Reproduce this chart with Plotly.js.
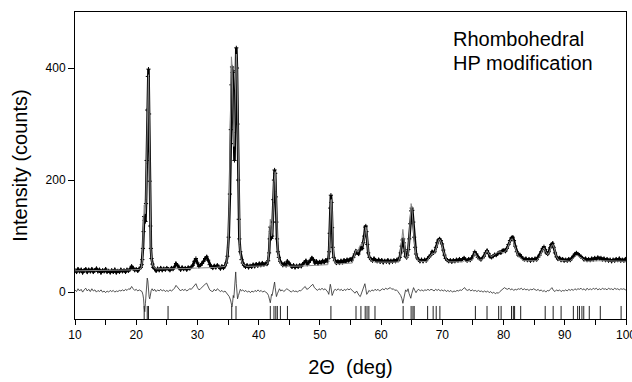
<!DOCTYPE html>
<html>
<head>
<meta charset="utf-8">
<script src="https://cdn.plot.ly/plotly-3.0.1.min.js"></script>
<style>html,body{margin:0;padding:0;background:#fff}#chart{width:632px;height:382px}</style>
</head>
<body>
<div id="chart"></div>
<script>
// Observed profile [2θ (deg), counts]
const observed = [
[10.0,39],[10.25,36],[10.5,41],[10.75,37],[11.0,40],[11.25,35],[11.5,39],[11.75,41],[12.0,36],[12.25,40],[12.5,37],[12.75,41],
[13.0,36],[13.25,39],[13.5,42],[13.75,37],[14.0,40],[14.25,35],[14.5,39],[14.75,37],[15.0,41],[15.25,36],[15.5,38],[15.75,35],
[16.0,39],[16.25,36],[16.5,40],[16.75,35],[17.0,38],[17.25,36],[17.5,40],[17.75,37],[18.0,39],[18.25,36],[18.5,40],[18.75,38],
[19.0,41],[19.25,46],[19.5,43],[19.75,39],[20.0,41],[20.25,38],[20.5,42],[20.75,44],
[20.9,49],[21.0,58],[21.1,78],[21.2,108],[21.3,135],[21.4,128],[21.5,126],[21.6,158],[21.7,235],[21.8,325],[21.9,385],[22.0,398],
[22.1,318],[22.2,198],[22.3,118],[22.4,78],[22.5,60],[22.65,50],[22.8,44],[23.0,42],
[23.25,38],[23.5,42],[23.75,39],[24.0,43],[24.25,39],[24.5,42],[24.75,40],[25.0,43],[25.25,41],[25.5,39],[25.75,43],[26.0,41],
[26.25,45],[26.5,51],[26.75,48],[27.0,43],[27.25,40],[27.5,44],[27.75,41],[28.0,43],[28.25,40],[28.5,44],[28.75,42],[29.0,45],
[29.25,48],[29.5,55],[29.75,60],[30.0,52],[30.25,46],[30.5,48],[30.75,51],[31.0,55],[31.25,60],[31.5,63],[31.75,57],[32.0,49],
[32.25,45],[32.5,43],[32.75,47],[33.0,44],[33.25,48],[33.5,45],[33.75,42],[34.0,46],[34.25,43],[34.5,47],
[34.7,52],[34.9,64],[35.1,98],[35.3,175],[35.45,290],[35.55,370],[35.65,402],[35.75,392],[35.85,330],[35.95,265],[36.05,235],
[36.15,300],[36.25,395],[36.35,436],[36.45,400],[36.55,300],[36.65,200],[36.75,130],[36.85,95],[37.0,72],[37.2,58],[37.4,52],[37.6,48],
[37.85,45],[38.1,48],[38.35,44],[38.6,47],[38.85,45],[39.1,49],[39.35,46],[39.6,50],[39.85,47],[40.1,51],[40.35,48],[40.6,52],
[40.85,49],[41.1,51],[41.35,50],[41.55,56],
[41.7,70],[41.8,95],[41.9,116],[42.0,108],[42.1,96],[42.2,100],[42.3,125],[42.4,165],[42.5,200],[42.6,218],[42.7,212],[42.8,170],
[42.9,125],[43.0,95],[43.15,72],[43.3,62],[43.5,55],[43.7,52],
[43.95,48],[44.2,51],[44.45,48],[44.7,55],[44.95,52],[45.2,48],[45.45,45],[45.7,48],[45.95,44],[46.2,47],[46.45,45],[46.7,48],
[46.95,46],[47.2,50],[47.45,53],[47.7,56],[47.95,50],[48.2,53],[48.45,57],[48.7,61],[48.95,58],[49.2,52],[49.45,55],[49.7,51],
[49.95,54],[50.2,52],[50.45,56],[50.7,53],[50.95,57],[51.2,55],[51.4,60],
[51.5,72],[51.6,105],[51.7,150],[51.8,173],[51.9,160],[52.0,115],[52.1,80],[52.25,62],[52.45,56],
[52.7,52],[52.95,55],[53.2,52],[53.45,56],[53.7,53],[53.95,57],[54.2,54],[54.45,58],[54.7,56],[54.95,59],[55.2,57],[55.45,62],
[55.7,68],[55.9,73],[56.1,70],[56.3,68],[56.5,75],[56.7,79],[56.9,78],[57.1,88],[57.25,100],[57.4,116],[57.5,118],[57.6,108],
[57.75,85],[57.9,70],[58.1,62],[58.35,58],[58.6,56],[58.85,60],[59.1,57],[59.35,55],[59.6,58],[59.85,54],[60.1,57],[60.35,53],
[60.6,56],[60.85,54],[61.1,57],[61.35,53],[61.6,56],[61.85,54],[62.1,57],[62.35,55],[62.6,58],[62.85,57],[63.05,62],
[63.2,70],[63.35,82],[63.5,93],[63.6,95],[63.7,88],[63.85,73],[64.0,64],[64.15,62],[64.3,66],[64.45,76],[64.6,95],[64.75,122],
[64.9,145],[65.0,150],[65.1,146],[65.25,125],[65.4,98],[65.55,80],[65.7,68],[65.9,61],[66.1,58],
[66.35,55],[66.6,58],[66.85,55],[67.1,58],[67.35,56],[67.6,60],[67.85,63],[68.1,66],[68.35,72],[68.55,70],[68.75,72],[68.95,80],
[69.15,88],[69.35,93],[69.55,95],[69.75,92],[69.95,86],[70.15,75],[70.35,66],[70.55,60],[70.8,57],
[71.05,55],[71.3,57],[71.55,54],[71.8,57],[72.05,55],[72.3,58],[72.55,56],[72.8,59],[73.05,57],[73.3,59],[73.55,61],[73.8,58],
[74.05,56],[74.3,59],[74.55,57],[74.8,61],[75.05,65],[75.3,72],[75.55,68],[75.8,62],[76.05,60],[76.3,58],[76.55,61],[76.8,64],
[77.05,70],[77.3,74],[77.55,69],[77.8,63],[78.05,62],[78.3,64],[78.55,67],[78.8,66],[79.05,69],[79.3,71],[79.55,70],[79.8,74],
[80.05,75],[80.3,73],[80.55,78],[80.8,85],[81.05,92],[81.3,97],[81.5,98],[81.7,92],[81.9,82],[82.15,72],[82.4,66],[82.65,67],
[82.9,63],[83.15,60],[83.4,58],[83.65,60],[83.9,57],[84.15,59],[84.4,56],[84.65,59],[84.9,57],[85.15,60],[85.4,58],[85.65,62],
[85.9,66],[86.15,72],[86.4,78],[86.6,81],[86.8,76],[87.0,70],[87.2,68],[87.4,72],[87.6,79],[87.8,85],[88.0,87],[88.2,80],
[88.4,70],[88.65,63],[88.9,59],[89.15,61],[89.4,57],[89.65,59],[89.9,56],[90.15,58],[90.4,56],[90.65,59],[90.9,57],[91.15,61],
[91.4,64],[91.65,68],[91.9,70],[92.15,68],[92.4,66],[92.65,63],[92.9,61],[93.15,58],[93.4,60],[93.65,57],[93.9,59],[94.15,57],
[94.4,60],[94.65,58],[94.9,61],[95.15,59],[95.4,62],[95.65,60],[95.9,61],[96.15,58],[96.4,60],[96.65,57],[96.9,59],[97.15,56],
[97.4,58],[97.65,55],[97.9,58],[98.15,56],[98.4,59],[98.65,57],[98.9,60],[99.15,56],[99.4,58],[99.65,56],[99.9,59],[100.0,57]
];

// Calculated profile [2θ (deg), counts]
const calculated = [
[10,38],[15,38.5],[19,39.5],[20.5,40.5],[20.8,43],[21.0,55],[21.1,80],[21.2,125],[21.3,155],[21.4,150],[21.5,140],[21.6,165],
[21.7,230],[21.8,310],[21.9,370],[22.0,388],[22.1,320],[22.2,200],[22.3,115],[22.4,75],[22.55,55],[22.8,45],[23.2,41.5],[25,41.5],
[28,42],[30,43],[33,44],[34.5,46],[34.8,55],[35.0,80],[35.2,150],[35.35,270],[35.45,380],[35.55,420],[35.65,405],[35.75,340],
[35.85,275],[35.95,260],[36.05,285],[36.15,320],[36.25,390],[36.35,425],[36.45,400],[36.55,310],[36.65,210],[36.75,135],[36.9,85],
[37.1,60],[37.4,50],[38,46],[41.0,46.5],[41.5,52],[41.7,75],[41.8,105],[41.9,130],[42.0,120],[42.1,100],[42.2,105],[42.3,125],
[42.4,160],[42.5,195],[42.6,205],[42.7,215],[42.8,180],[42.9,135],[43.0,98],[43.15,72],[43.3,60],[43.6,50],[44.0,46],[47,46.5],
[51.3,49],[51.45,60],[51.6,100],[51.7,138],[51.8,165],[51.9,165],[52.0,122],[52.1,85],[52.25,62],[52.5,52],[53,50],[55.3,52],
[55.7,66],[55.9,75],[56.1,72],[56.3,72],[56.5,82],[56.7,85],[56.9,82],[57.1,88],[57.25,95],[57.4,108],[57.5,116],[57.6,112],
[57.75,88],[57.9,72],[58.1,62],[58.4,56],[59,53.5],[62.8,53.5],[63.1,64],[63.3,82],[63.45,100],[63.55,112],[63.7,98],[63.85,78],
[64.0,64],[64.2,60],[64.4,68],[64.6,98],[64.75,132],[64.9,158],[65.0,153],[65.1,142],[65.25,118],[65.4,93],[65.55,77],[65.7,66],
[65.9,59],[66.3,55],[67.4,54.5],[67.8,60],[68.1,64],[68.4,70],[68.7,68],[68.95,78],[69.2,89],[69.45,94],[69.65,93],[69.9,86],
[70.15,74],[70.4,64],[70.7,57],[71.2,54],[73.3,54],[73.6,56],[74,54],[75.0,58],[75.3,70],[75.6,64],[76.0,57],[76.6,58],
[77.0,67],[77.3,74],[77.6,68],[78,63],[78.5,67],[79,71],[79.5,72],[80,70],[80.5,75],[80.9,86],[81.2,94],[81.45,95],
[81.7,88],[82.0,76],[82.4,64],[82.8,61],[83.3,56],[85.4,56],[85.9,63],[86.3,74],[86.6,79],[86.9,72],[87.2,67],[87.5,72],
[87.8,82],[88.05,85],[88.3,78],[88.6,64],[89.0,57],[90.8,55],[91.3,60],[91.7,64],[92.0,66],[92.4,63],[92.9,59],[93.5,55],
[95.5,56],[100,55]
];

// Difference curve [2θ (deg), counts]
const difference = [
[10.0,4],[10.25,1],[10.5,6],[10.75,2],[11.0,5],[11.25,0],[11.5,4],[11.75,7],[12.0,2],[12.25,5],[12.5,1],[12.75,6],[13.0,2],
[13.25,4],[13.5,0],[13.75,3],[14.0,1],[14.25,4],[14.5,0],[14.75,2],[15.0,-1],[15.25,2],[15.5,0],[15.75,3],[16.0,1],[16.25,3],
[16.5,0],[16.75,2],[17.0,1],[17.25,3],[17.5,2],[17.75,4],[18.0,2],[18.25,5],[18.5,3],[18.75,6],[19.0,5],[19.25,10],[19.5,6],
[19.75,3],[20.0,5],[20.25,2],[20.5,4],[20.75,3],[20.95,1],[21.1,-5],[21.2,-12],[21.3,-28],[21.4,-35],[21.5,-20],[21.6,0],
[21.7,12],[21.8,25],[21.9,20],[22.0,-2],[22.1,-8],[22.2,-12],[22.3,-5],[22.45,3],[22.6,6],[22.8,2],[23.0,5],[23.25,1],[23.5,4],
[23.75,2],[24.0,5],[24.25,2],[24.5,4],[24.75,1],[25.0,3],[25.25,1],[25.5,4],[25.75,2],[26.0,4],[26.25,7],[26.5,12],[26.75,8],
[27.0,4],[27.25,2],[27.5,5],[27.75,3],[28.0,5],[28.25,2],[28.5,4],[28.75,6],[29.0,5],[29.25,8],[29.5,12],[29.75,15],[30.0,8],
[30.25,4],[30.5,6],[30.75,9],[31.0,11],[31.25,14],[31.5,16],[31.75,10],[32.0,4],[32.25,2],[32.5,1],[32.75,5],[33.0,2],[33.25,6],
[33.5,3],[33.75,1],[34.0,3],[34.25,0],[34.5,2],[34.75,-1],[35.0,-4],[35.2,-8],[35.4,-14],[35.55,-22],[35.65,-26],[35.75,-18],
[35.85,-6],[35.95,-10],[36.05,5],[36.15,30],[36.25,36],[36.35,15],[36.45,-5],[36.55,-12],[36.7,-6],[36.85,2],[37.0,5],[37.2,2],
[37.4,4],[37.65,1],[37.9,3],[38.15,0],[38.4,2],[38.65,-1],[38.9,2],[39.15,0],[39.4,3],[39.65,1],[39.9,4],[40.15,1],[40.4,3],
[40.65,0],[40.9,2],[41.15,0],[41.4,-2],[41.6,-6],[41.75,-12],[41.9,-19],[42.0,-12],[42.1,-4],[42.2,-6],[42.3,2],[42.45,10],
[42.6,18],[42.7,8],[42.8,-4],[42.9,-8],[43.05,-3],[43.2,3],[43.4,6],[43.6,2],[43.85,4],[44.1,1],[44.35,3],[44.6,6],[44.85,4],
[45.1,2],[45.35,0],[45.6,3],[45.85,1],[46.1,2],[46.35,0],[46.6,3],[46.85,2],[47.1,5],[47.35,7],[47.6,10],[47.85,5],[48.1,6],
[48.35,9],[48.6,12],[48.85,14],[49.1,8],[49.35,5],[49.6,3],[49.85,6],[50.1,4],[50.35,7],[50.6,4],[50.85,6],[51.1,3],[51.3,0],
[51.45,-4],[51.6,4],[51.7,14],[51.8,9],[51.9,-2],[52.0,-6],[52.15,-2],[52.3,3],[52.5,5],[52.75,3],[53.0,6],[53.25,3],[53.5,5],
[53.75,2],[54.0,5],[54.25,3],[54.5,6],[54.75,4],[55.0,6],[55.25,3],[55.5,1],[55.75,-2],[56.0,2],[56.2,-3],[56.4,-6],[56.6,-8],
[56.8,-2],[57.0,4],[57.2,8],[57.35,15],[57.5,6],[57.65,-4],[57.8,-2],[58.0,3],[58.25,1],[58.5,4],[58.75,2],[59.0,5],[59.25,3],
[59.5,5],[59.75,2],[60.0,4],[60.25,6],[60.5,4],[60.75,7],[61.0,5],[61.25,7],[61.5,8],[61.75,5],[62.0,6],[62.25,3],[62.5,4],
[62.75,1],[63.0,-2],[63.2,-6],[63.4,-12],[63.55,-20],[63.7,-12],[63.85,-4],[64.0,4],[64.2,1],[64.4,6],[64.55,-2],[64.7,-8],
[64.85,-11],[65.0,-3],[65.15,5],[65.3,8],[65.5,3],[65.7,-1],[65.9,3],[66.15,5],[66.4,2],[66.65,4],[66.9,2],[67.15,4],[67.4,3],
[67.65,5],[67.9,3],[68.15,5],[68.4,4],[68.65,2],[68.9,5],[69.15,3],[69.4,5],[69.65,2],[69.9,4],[70.15,2],[70.4,4],[70.65,1],
[70.9,3],[71.15,1],[71.4,3],[71.65,0],[71.9,2],[72.15,1],[72.4,3],[72.65,2],[72.9,4],[73.15,3],[73.4,6],[73.65,8],[73.9,4],
[74.15,3],[74.4,5],[74.65,2],[74.9,4],[75.15,2],[75.4,3],[75.65,1],[75.9,3],[76.15,1],[76.4,2],[76.65,0],[76.9,2],[77.15,0],
[77.4,2],[77.65,-1],[77.9,1],[78.15,-2],[78.4,0],[78.65,-3],[78.9,-1],[79.15,-2],[79.4,1],[79.65,3],[79.9,5],[80.15,8],[80.4,6],
[80.65,5],[80.9,7],[81.15,4],[81.4,6],[81.65,3],[81.9,5],[82.15,4],[82.4,6],[82.65,5],[82.9,7],[83.15,4],[83.4,6],[83.65,4],
[83.9,5],[84.15,3],[84.4,5],[84.65,4],[84.9,6],[85.15,4],[85.4,3],[85.65,5],[85.9,2],[86.15,4],[86.4,1],[86.65,3],[86.9,0],
[87.15,3],[87.4,2],[87.65,5],[87.9,8],[88.15,3],[88.4,1],[88.65,4],[88.9,2],[89.15,4],[89.4,1],[89.65,3],[89.9,2],[90.15,4],
[90.4,2],[90.65,5],[90.9,3],[91.15,5],[91.4,3],[91.65,6],[91.9,4],[92.15,6],[92.4,5],[92.65,7],[92.9,4],[93.15,6],[93.4,3],
[93.65,7],[93.9,4],[94.15,6],[94.4,4],[94.65,7],[94.9,5],[95.15,7],[95.4,4],[95.65,6],[95.9,4],[96.15,7],[96.4,5],[96.65,6],
[96.9,4],[97.15,7],[97.4,5],[97.65,6],[97.9,4],[98.15,7],[98.4,5],[98.65,6],[98.9,4],[99.15,6],[99.4,5],[99.65,6],[99.9,4],[100.0,5]
];

// Bragg reflection positions (2θ, deg)
const reflections = [21.3,21.8,22.0,25.2,35.6,36.3,41.9,42.5,42.8,43.05,43.55,44.7,51.8,55.9,56.7,57.4,57.7,58.0,59.0,
  63.6,64.9,65.2,65.4,67.6,68.5,69.0,69.6,75.4,77.3,79.2,79.6,81.3,81.6,81.8,82.8,86.8,88.1,89.4,91.4,92.1,92.4,92.8,93.1,
  94.0,95.8,99.2];

// Axis ticks: x ticks every 5 deg, labels every 10 deg
const xTickVals = [10,15,20,25,30,35,40,45,50,55,60,65,70,75,80,85,90,95,100];
const xTickText = ["10","","20","","30","","40","","50","","60","","70","","80","","90","","100"];
const yTickVals = [0,200,400];
const labelLines = ["Rhombohedral","HP modification"];

const FONT = "Liberation Sans, Arial, Helvetica, sans-serif";
const REFL_LEVEL = -38.5;

const traces = [
  {
    x: observed.map(p => p[0]), y: observed.map(p => p[1]),
    type: "scatter", mode: "lines+markers",
    line: {color: "#000", width: 2.6},
    marker: {symbol: "cross-thin", size: 3, line: {color: "#000", width: 1}},
    hoverinfo: "skip"
  },
  {
    x: calculated.map(p => p[0]), y: calculated.map(p => p[1]),
    type: "scatter", mode: "lines",
    line: {color: "#8a8a8a", width: 1},
    hoverinfo: "skip"
  },
  {
    x: difference.map(p => p[0]), y: difference.map(p => p[1]),
    type: "scatter", mode: "lines",
    line: {color: "#2a2a2a", width: 0.8},
    hoverinfo: "skip"
  },
  {
    x: reflections, y: reflections.map(() => REFL_LEVEL),
    type: "scatter", mode: "markers",
    marker: {symbol: "line-ns", size: 11, line: {color: "#222", width: 1}},
    hoverinfo: "skip"
  }
];

const layout = {
  width: 632, height: 382,
  margin: {l: 75, r: 6, t: 12, b: 63},
  paper_bgcolor: "#fff", plot_bgcolor: "#fff",
  showlegend: false,
  font: {family: FONT, color: "#000", size: 12},
  xaxis: {
    range: [10, 100], tickmode: "array", tickvals: xTickVals, ticktext: xTickText,
    ticks: "outside", ticklen: 5, tickwidth: 1, tickcolor: "#000", ticklabeloverflow: "allow",
    showgrid: false, zeroline: false, showline: true, linecolor: "#000", linewidth: 1, mirror: true,
    tickfont: {size: 12, family: FONT},
    title: {text: "2Θ  (deg)", font: {size: 20, family: FONT}, standoff: 18}
  },
  yaxis: {
    range: [-48, 500], tickvals: yTickVals, ticks: "outside", ticklen: 6, tickwidth: 1, tickcolor: "#000",
    showgrid: false, zeroline: false, showline: true, linecolor: "#000", linewidth: 1, mirror: true,
    tickfont: {size: 12, family: FONT},
    title: {text: "Intensity (counts)", font: {size: 20, family: FONT}, standoff: 12}
  },
  annotations: [
    {xref: "x", yref: "y", x: 71.4, y: 451, xanchor: "left", yanchor: "middle", showarrow: false,
     text: labelLines[0], font: {size: 20, family: FONT, color: "#000"}},
    {xref: "x", yref: "y", x: 71.4, y: 409, xanchor: "left", yanchor: "middle", showarrow: false,
     text: labelLines[1], font: {size: 20, family: FONT, color: "#000"}}
  ]
};

Plotly.newPlot("chart", traces, layout, {staticPlot: true, displayModeBar: false});
</script>
</body>
</html>
